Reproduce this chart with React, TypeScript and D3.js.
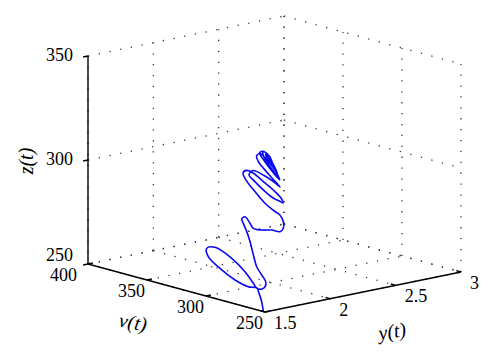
import { useRef, useEffect } from 'react';
import * as d3 from 'd3';

// trajectory samples: v(t), y(t), z(t)
const vValues = [
  251.4, 252.1, 253.4, 255.5, 256.8, 266.4, 279.8, 293.3, 306.9, 310.5,
  305.7, 293.7, 284.7, 279.8, 279.2, 276.9, 276.5, 277.1, 280.5, 283.6,
  284.2, 284.8, 285.4, 286.1, 285.2, 280.2, 276.0, 273.2, 268.3, 262.0,
  257.2, 256.6, 258.8, 257.5, 261.7, 270.2, 278.6, 286.0, 288.6, 290.0,
  284.5, 276.0, 266.1, 260.8, 259.1, 257.5, 263.1, 271.6, 280.1, 283.5,
  284.5, 275.2, 266.7, 261.6, 264.0, 270.8, 275.8, 277.1, 278.6, 271.8,
  265.0, 262.0, 264.8, 271.6, 274.6, 275.2, 269.7, 265.0, 263.7, 266.5,
  271.2, 271.6, 272.6, 268.4, 265.8, 266.9, 269.5, 270.9, 268.0, 269.6,
  269.1,
];
const yValues = [
  1.5, 1.5, 1.5, 1.5, 1.5, 1.52, 1.54, 1.56, 1.58, 1.6,
  1.62, 1.64, 1.66, 1.68, 1.7, 1.72, 1.74, 1.75, 1.75, 1.74,
  1.72, 1.7, 1.68, 1.66, 1.64, 1.62, 1.62, 1.62, 1.64, 1.66,
  1.68, 1.7, 1.72, 1.68, 1.68, 1.68, 1.68, 1.68, 1.68, 1.72,
  1.72, 1.72, 1.72, 1.72, 1.72, 1.68, 1.68, 1.68, 1.68, 1.68,
  1.72, 1.72, 1.72, 1.72, 1.68, 1.68, 1.68, 1.68, 1.72, 1.72,
  1.72, 1.72, 1.68, 1.68, 1.68, 1.72, 1.72, 1.72, 1.72, 1.68,
  1.68, 1.68, 1.72, 1.72, 1.72, 1.68, 1.68, 1.72, 1.72, 1.7,
  1.7,
];
const zValues = [
  250.0, 252.5, 255.7, 258.8, 260.5, 259.4, 260.3, 262.8, 266.8, 270.0,
  271.0, 267.3, 262.0, 256.9, 254.4, 254.1, 255.0, 257.2, 259.9, 263.5,
  269.3, 275.9, 280.9, 285.0, 287.5, 289.6, 287.1, 285.1, 284.8, 285.5,
  285.2, 286.7, 289.2, 293.3, 294.3, 297.0, 301.3, 305.6, 308.6, 309.1,
  308.7, 306.0, 302.7, 300.3, 298.2, 299.8, 300.5, 303.2, 306.7, 308.4,
  309.9, 308.9, 307.1, 305.5, 310.0, 313.3, 316.3, 318.5, 319.0, 316.4,
  312.2, 308.8, 313.7, 317.9, 320.4, 320.5, 317.2, 313.1, 310.5, 315.8,
  319.4, 321.3, 319.9, 316.5, 313.0, 318.2, 320.4, 319.0, 315.6, 318.0,
  317.1,
];

const vTicks = [400, 350, 300, 250];
const yTicks = [1.5, 2, 2.5, 3];
const zTicks = [250, 300, 350];

const FONT = 'Liberation Serif, Times New Roman, DejaVu Serif, serif';

export default function App() {
  const svgRef = useRef<SVGSVGElement>(null);

  useEffect(() => {
    const svg = d3.select(svgRef.current);
    svg.selectAll('*').remove();

    // screen position of the (400, 1.5, 250) corner and full-length axis vectors
    const origin = { x: 88, y: 264 };
    const vDir = { x: 177, y: 48 };
    const yDir = { x: 196, y: -40 };
    const zDir = { x: 0, y: -208 };

    const sv = d3.scaleLinear().domain([400, 250]).range([0, 1]);
    const sy = d3.scaleLinear().domain([1.5, 3]).range([0, 1]);
    const sz = d3.scaleLinear().domain([250, 350]).range([0, 1]);

    const project = (v: number, y: number, z: number): [number, number] => {
      const a = sv(v);
      const b = sy(y);
      const c = sz(z);
      return [
        origin.x + a * vDir.x + b * yDir.x + c * zDir.x,
        origin.y + a * vDir.y + b * yDir.y + c * zDir.y,
      ];
    };

    const grid = svg.append('g');
    const dotted = (p: [number, number], q: [number, number]) => {
      grid
        .append('line')
        .attr('x1', p[0])
        .attr('y1', p[1])
        .attr('x2', q[0])
        .attr('y2', q[1])
        .attr('stroke', '#3a3a3a')
        .attr('stroke-width', 1.3)
        .attr('stroke-dasharray', '1.3 9.6');
    };

    // back wall (v = 400)
    yTicks.forEach((y) => dotted(project(400, y, 250), project(400, y, 350)));
    zTicks.forEach((z) => dotted(project(400, 1.5, z), project(400, 3, z)));
    // side wall (y = 3)
    vTicks.forEach((v) => dotted(project(v, 3, 250), project(v, 3, 350)));
    zTicks.forEach((z) => dotted(project(400, 3, z), project(250, 3, z)));
    // floor (z = 250)
    vTicks.forEach((v) => dotted(project(v, 1.5, 250), project(v, 3, 250)));
    yTicks.forEach((y) => dotted(project(400, y, 250), project(250, y, 250)));

    // trajectory
    const pts = vValues.map((v, i) => project(v, yValues[i], zValues[i]));
    svg
      .append('path')
      .attr('d', d3.line().curve(d3.curveCatmullRom.alpha(0.5))(pts))
      .attr('fill', 'none')
      .attr('stroke', '#0a0af0')
      .attr('stroke-width', 1.6)
      .attr('stroke-linejoin', 'round');

    // solid axes
    const axes = svg.append('g').attr('stroke', '#000').attr('stroke-width', 1.4);
    const seg = (p: [number, number], q: [number, number]) =>
      axes.append('line').attr('x1', p[0]).attr('y1', p[1]).attr('x2', q[0]).attr('y2', q[1]);

    seg(project(400, 1.5, 250), project(400, 1.5, 350));
    seg(project(400, 1.5, 250), project(250, 1.5, 250));
    seg(project(250, 1.5, 250), project(250, 3, 250));

    const yLen = Math.hypot(yDir.x, yDir.y);
    const vLen = Math.hypot(vDir.x, vDir.y);
    const tick = 5;

    zTicks.forEach((z) => {
      const p = project(400, 1.5, z);
      seg(p, [p[0] - (tick * yDir.x) / yLen, p[1] - (tick * yDir.y) / yLen]);
    });
    vTicks.forEach((v) => {
      const p = project(v, 1.5, 250);
      seg(p, [p[0] + (tick * yDir.x) / yLen, p[1] + (tick * yDir.y) / yLen]);
    });
    yTicks.forEach((y) => {
      const p = project(250, y, 250);
      seg(p, [p[0] - (tick * vDir.x) / vLen, p[1] - (tick * vDir.y) / vLen]);
    });

    // tick labels
    const label = (x: number, y: number, txt: string, anchor: string) =>
      svg
        .append('text')
        .attr('x', x)
        .attr('y', y)
        .attr('text-anchor', anchor)
        .attr('dominant-baseline', 'central')
        .style('font-family', FONT)
        .style('font-size', '18px')
        .attr('fill', '#000')
        .text(txt);

    zTicks.forEach((z, i) => {
      const p = project(400, 1.5, z);
      label(p[0] - 15, p[1] - (i === 0 ? 9 : 1), String(z), 'end');
    });
    vTicks.forEach((v, i) => {
      const p = project(v, 1.5, 250);
      if (i === 0) label(p[0] - 11, p[1] + 11, String(v), 'end');
      else label(p[0] - 2, p[1] + 11, String(v), 'end');
    });
    yTicks.forEach((y) => {
      const p = project(250, y, 250);
      label(p[0] + 9, p[1] + 11, String(y), 'start');
    });

    // axis titles
    const title = (x: number, y: number, rot: number, txt: string) =>
      svg
        .append('text')
        .attr('transform', `translate(${x},${y}) rotate(${rot})`)
        .attr('text-anchor', 'middle')
        .attr('dominant-baseline', 'central')
        .style('font-family', FONT)
        .style('font-style', 'italic')
        .style('font-size', '20px')
        .attr('fill', '#000')
        .text(txt);

    title(26, 161, -90, 'z(t)');
    title(133, 322, 10, 'ν(t)');
    title(392, 331, -9, 'y(t)');
  }, []);

  return (
    <div style={{ position: 'fixed', left: 0, top: 0 }}>
      <svg ref={svgRef} width={500} height={360} style={{ display: 'block', background: '#fff' }} />
    </div>
  );
}
